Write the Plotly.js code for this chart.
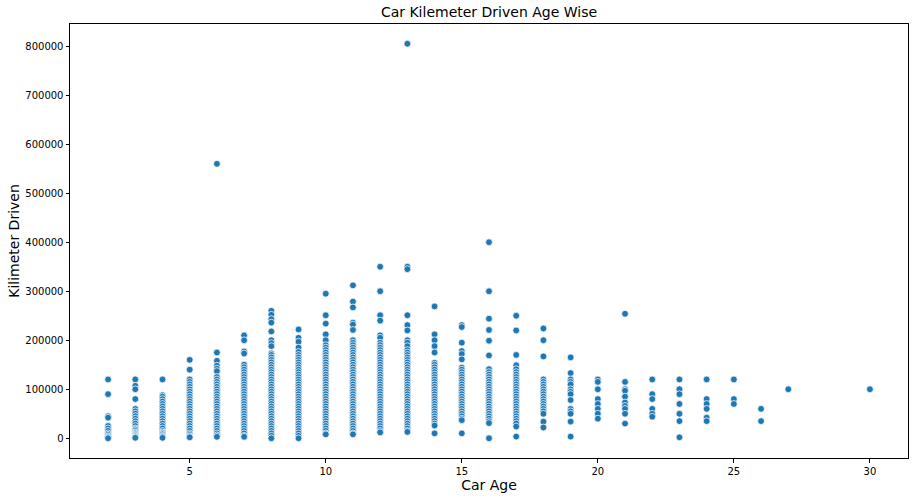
<!DOCTYPE html>
<html>
<head>
<meta charset="utf-8">
<script src="https://cdn.plot.ly/plotly-3.0.1.min.js"></script>
<style>
  html, body { margin: 0; padding: 0; background: #fff; }
  #chart { width: 914px; height: 501px; }
</style>
</head>
<body>
<div id="chart"></div>
<script>
// car age (years) and km driven, one list per age column
const ages = [2, 3, 4, 5, 6, 7, 8, 9, 10, 11, 12, 13, 14, 15, 16, 17, 18, 19, 20, 21, 22, 23, 24, 25, 26, 27, 30];

const km2 = [120000, 90000, 45000, 42000, 25000, 20000, 15000, 10000, 7000, 4000, 2000, 0];
const km3 = [120000, 107000, 100000, 80000, 60000, 55000, 50000, 45000, 40000, 35000, 30000, 25000, 20000, 18000, 15000, 12000, 10000, 8000, 6000, 4000, 2000, 1000];
const km4 = [120000, 88000, 85000, 80000, 75000, 70000, 65000, 60000, 55000, 50000, 45000, 40000, 35000, 30000, 25000, 20000, 15000, 12000, 10000, 8000, 5000, 3000, 1000];
const km5 = [160000, 140000, 120000, 115000, 110000, 105000, 100000, 95000, 90000, 85000, 80000, 75000, 70000, 65000, 60000, 55000, 50000, 45000, 40000, 35000, 30000, 25000, 20000, 15000, 10000, 7000, 4000, 2000];
const km6 = [560000, 175000, 158000, 148000, 142000, 137000, 125000, 120000, 115000, 110000, 105000, 100000, 95000, 90000, 85000, 80000, 75000, 70000, 65000, 60000, 55000, 50000, 45000, 40000, 35000, 30000, 25000, 20000, 15000, 10000, 6000, 3000];
const km7 = [210000, 200000, 177000, 173000, 150000, 145000, 140000, 135000, 130000, 125000, 120000, 115000, 110000, 105000, 100000, 95000, 90000, 85000, 80000, 75000, 70000, 65000, 60000, 55000, 50000, 45000, 40000, 35000, 30000, 25000, 20000, 15000, 10000, 5000, 3000];
const km8 = [260000, 252000, 243000, 236000, 218000, 200000, 194000, 188000, 173000, 170000, 165000, 160000, 155000, 150000, 145000, 140000, 135000, 130000, 125000, 120000, 115000, 110000, 105000, 100000, 95000, 90000, 85000, 80000, 75000, 70000, 65000, 60000, 55000, 50000, 45000, 40000, 35000, 30000, 25000, 20000, 15000, 10000, 5000, 0];
const km9 = [222000, 205000, 197000, 185000, 176000, 170000, 165000, 160000, 155000, 150000, 145000, 140000, 135000, 130000, 125000, 120000, 115000, 110000, 105000, 100000, 95000, 90000, 85000, 80000, 75000, 70000, 65000, 60000, 55000, 50000, 45000, 40000, 35000, 30000, 25000, 20000, 15000, 10000, 5000, 0];
const km10 = [295000, 251000, 234000, 212000, 200000, 190000, 185000, 180000, 175000, 170000, 165000, 160000, 155000, 150000, 145000, 140000, 135000, 130000, 125000, 120000, 115000, 110000, 105000, 100000, 95000, 90000, 85000, 80000, 75000, 70000, 65000, 60000, 55000, 50000, 45000, 40000, 35000, 30000, 25000, 20000, 15000, 10000, 8000];
const km11 = [312000, 279000, 267000, 236000, 232000, 221000, 200000, 195000, 190000, 185000, 180000, 175000, 170000, 165000, 160000, 155000, 150000, 145000, 140000, 135000, 130000, 125000, 120000, 115000, 110000, 105000, 100000, 95000, 90000, 85000, 80000, 75000, 70000, 65000, 60000, 55000, 50000, 45000, 40000, 35000, 30000, 25000, 20000, 15000, 10000, 8000];
const km12 = [350000, 300000, 251000, 240000, 210000, 205000, 195000, 190000, 185000, 180000, 175000, 170000, 165000, 160000, 155000, 150000, 145000, 140000, 135000, 130000, 125000, 120000, 115000, 110000, 105000, 100000, 95000, 90000, 85000, 80000, 75000, 70000, 65000, 60000, 55000, 50000, 45000, 40000, 35000, 30000, 25000, 20000, 15000, 12000];
const km13 = [805000, 350000, 345000, 251000, 231000, 220000, 200000, 195000, 188000, 180000, 175000, 170000, 165000, 160000, 155000, 150000, 145000, 140000, 135000, 130000, 125000, 120000, 115000, 110000, 105000, 100000, 95000, 90000, 85000, 80000, 75000, 70000, 65000, 60000, 55000, 50000, 45000, 40000, 35000, 30000, 25000, 20000, 15000, 13000];
const km14 = [269000, 212000, 200000, 188000, 175000, 154000, 150000, 145000, 140000, 135000, 130000, 125000, 120000, 115000, 110000, 105000, 100000, 95000, 90000, 85000, 80000, 75000, 70000, 65000, 60000, 55000, 50000, 45000, 40000, 35000, 30000, 26000, 10000];
const km15 = [231000, 227000, 195000, 178000, 172000, 161000, 144000, 140000, 135000, 130000, 125000, 120000, 115000, 110000, 105000, 100000, 95000, 90000, 85000, 80000, 75000, 70000, 65000, 60000, 55000, 50000, 45000, 40000, 37000, 10000];
const km16 = [400000, 300000, 244000, 221000, 199000, 169000, 141000, 135000, 130000, 125000, 120000, 115000, 110000, 105000, 100000, 95000, 90000, 85000, 80000, 75000, 70000, 65000, 60000, 55000, 50000, 45000, 40000, 35000, 31000, 0];
const km17 = [250000, 220000, 170000, 149000, 141000, 135000, 130000, 125000, 120000, 115000, 110000, 105000, 100000, 95000, 90000, 85000, 80000, 75000, 70000, 65000, 60000, 55000, 50000, 45000, 40000, 35000, 30000, 24000, 3500];
const km18 = [224000, 200000, 167000, 120000, 115000, 110000, 105000, 100000, 95000, 90000, 85000, 80000, 75000, 70000, 65000, 60000, 55000, 50000, 34000, 22000];
const km19 = [165000, 133000, 120000, 115000, 110000, 100000, 95000, 90000, 78000, 60000, 55000, 50000, 34000, 3500];
const km20 = [120000, 115000, 100000, 80000, 70000, 60000, 50000, 40000];
const km21 = [254000, 115000, 100000, 97000, 85000, 73000, 66000, 60000, 50000, 30000];
const km22 = [120000, 90000, 80000, 60000, 50000, 44000];
const km23 = [120000, 100000, 90000, 70000, 50000, 35000, 2000];
const km24 = [120000, 80000, 70000, 60000, 42000, 35000];
const km25 = [120000, 80000, 70000];
const km26 = [60000, 35000];
const km27 = [100000];
const km30 = [100000];

const kmByAge = [km2, km3, km4, km5, km6, km7, km8, km9, km10, km11, km12, km13, km14, km15,
  km16, km17, km18, km19, km20, km21, km22, km23, km24, km25, km26, km27, km30];

const xs = [], ys = [];
ages.forEach((a, i) => {
  kmByAge[i].forEach(v => { xs.push(a); ys.push(v); });
});

const font = 'DejaVu Sans, Liberation Sans, sans-serif';

const axisBase = {
  showline: true, mirror: true, linecolor: '#000', linewidth: 1,
  ticks: 'outside', ticklen: 3.5, tickwidth: 1, tickcolor: '#000',
  showgrid: false, zeroline: false,
  tickfont: { family: font, size: 10, color: '#000' }
};

Plotly.newPlot('chart', [{
  x: xs, y: ys,
  type: 'scatter', mode: 'markers',
  marker: { color: '#1f77b4', size: 6.8, line: { color: '#fff', width: 0.75 } },
  hoverinfo: 'x+y'
}], {
  width: 914, height: 501,
  margin: { l: 70, r: 6, t: 24, b: 43 },
  paper_bgcolor: '#fff', plot_bgcolor: '#fff',
  showlegend: false,
  title: { text: 'Car Kilemeter Driven Age Wise', font: { family: font, size: 14, color: '#000' },
    x: 0.535, xanchor: 'center', y: 0.975, yref: 'container', yanchor: 'middle' },
  xaxis: Object.assign({}, axisBase, {
    range: [0.6, 31.4], tickvals: [5, 10, 15, 20, 25, 30],
    title: { text: 'Car Age', font: { family: font, size: 14, color: '#000' }, standoff: 4 }
  }),
  yaxis: Object.assign({}, axisBase, {
    range: [-40250, 845250], dtick: 100000, tickformat: 'd',
    title: { text: 'Kilimeter Driven', font: { family: font, size: 14, color: '#000' }, standoff: 2 }
  })
}, { displayModeBar: false, staticPlot: true });
</script>
</body>
</html>
